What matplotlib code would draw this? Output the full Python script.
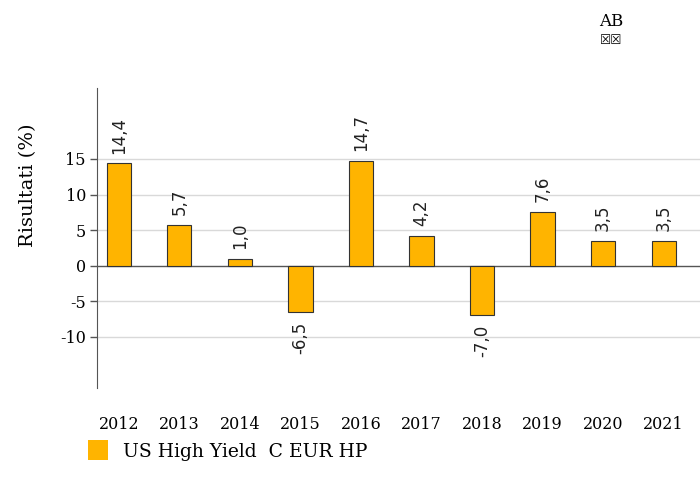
import matplotlib.pyplot as plt
from matplotlib.patches import Rectangle

years = ['2012', '2013', '2014', '2015', '2016', '2017', '2018', '2019', '2020', '2021']
returns = [14.4, 5.7, 1.0, -6.5, 14.7, 4.2, -7.0, 7.6, 3.5, 3.5]
yticks = [-10, -5, 0, 5, 10, 15]
series_name = 'US High Yield  C EUR HP'

BAR_COLOR = '#FFB400'
SERIF = ['DejaVu Serif']

fig = plt.figure(figsize=(7, 4.88), dpi=100)
ax = fig.add_axes([0.1386, 0.205, 0.8614, 0.615])

x = list(range(len(years)))
for y in yticks:
    if y != 0:
        ax.axhline(y, color='#d9d9d9', linewidth=1, zorder=0)
ax.axhline(0, color='#555555', linewidth=1, zorder=1)

ax.bar(x, returns, width=0.4, color=BAR_COLOR, edgecolor='#333333', linewidth=0.8, zorder=2)

for xi, v in zip(x, returns):
    label = f'{v:.1f}'.replace('.', ',')
    if v >= 0:
        ax.annotate(label, (xi, v), xytext=(0, 7), textcoords='offset points',
                    rotation=90, ha='center', va='bottom', fontsize=12, color='#222222')
    else:
        ax.annotate(label, (xi, v), xytext=(0, -7), textcoords='offset points',
                    rotation=90, ha='center', va='top', fontsize=12, color='#222222')

ax.set_xlim(-0.36, 9.6)
ax.set_ylim(-17.2, 25)
ax.set_yticks(yticks)
ax.set_yticklabels([str(t) for t in yticks], family=SERIF, fontsize=11.5)
ax.set_xticks(x)
ax.set_xticklabels(years, family=SERIF, fontsize=11.5)
ax.tick_params(axis='x', length=0, pad=20)
ax.tick_params(axis='y', length=5, width=1, color='#555555', pad=3)
for s in ['top', 'right', 'bottom']:
    ax.spines[s].set_visible(False)
ax.spines['left'].set_color('#555555')
ax.set_ylabel('Risultati (%)', family=SERIF, fontsize=14)
ax.yaxis.set_label_coords(-0.099, 0.677)

# legend
fig.patches.append(Rectangle((88 / 700, 1 - 460 / 488), 20 / 700, 20 / 488,
                             transform=fig.transFigure, facecolor=BAR_COLOR, edgecolor='none'))
fig.text(123 / 700, 1 - 452 / 488, series_name, family=SERIF, fontsize=13.5, va='center', ha='left')

# header mark top right
fig.text(611 / 700, 1 - 22 / 488, 'AB', family=SERIF, fontsize=12, va='center', ha='center')
fig.text(611 / 700, 1 - 40 / 488, '\u2612\u2612', fontsize=9, va='center', ha='center')

fig.savefig('out.png', dpi=100)
